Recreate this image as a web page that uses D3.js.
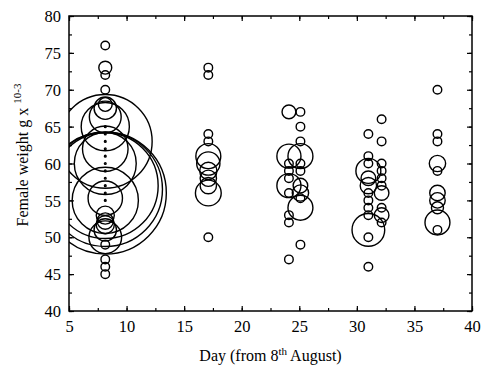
<!DOCTYPE html>
<html>
<head>
<meta charset="utf-8">
<script src="https://cdn.jsdelivr.net/npm/d3@7"></script>
<style>
  body { margin: 0; background: #fff; }
</style>
</head>
<body>
<div id="chart"></div>
<script>
// sampling days (columns)
const days = [8.15, 17.1, 24.1, 25.1, 31, 32.15, 37];

// female weight (g x 10^-3) for every circle in each column
const weights = [
  [76, 73, 72, 70, 68, 67.5, 66.3, 65, 63, 62, 60, 57, 56.5, 56, 55.3, 55, 53, 52.2, 51.7, 51, 50, 49, 47, 46, 45,
   65, 64, 63, 62, 61, 60, 59, 58, 57, 56, 55],
  [73, 72, 64, 63, 61, 60, 59, 58, 57, 56, 50],
  [67, 61, 60, 59, 58, 57, 56, 53, 52, 47],
  [67, 65, 63, 61, 60, 59, 57, 56, 55.3, 54, 49],
  [64, 61, 60, 59, 58, 57, 56, 55, 54, 53, 51, 50, 46],
  [66, 63, 60, 59, 58, 57, 56, 54, 53, 52],
  [70, 64, 63, 60, 59, 56, 55, 54, 52, 51]
];

// relative circle size for each of those points
const sizes = [
  [1, 1.5, 1, 1, 1.6, 2.6, 3.7, 5.6, 10.9, 5.3, 7.2, 12.3, 13.3, 14.2, 4, 7.7, 2.1, 1.9, 2.1, 2.6, 3.8, 1, 1, 1, 1,
   0.2, 0.2, 0.2, 0.2, 0.2, 0.2, 0.2, 0.2, 0.2, 0.2, 0.2],
  [1, 1, 1, 1, 2.9, 2.7, 2.0, 1.9, 1.9, 3.0, 1],
  [1.6, 2.8, 1, 1, 1, 2.8, 1, 1, 1, 1],
  [1, 1, 1, 2.9, 1, 1, 1.7, 1.9, 1, 2.9, 1],
  [1, 1, 1, 2.9, 1.7, 1.9, 1, 1, 1, 1, 3.8, 1, 1],
  [1, 1, 1, 1, 1, 1, 1.7, 1, 1.7, 1],
  [1, 1, 1, 1.9, 1, 1.8, 1.8, 1.4, 2.9, 1]
];

const xTicks = [5, 10, 15, 20, 25, 30, 35, 40];
const yTicks = [40, 45, 50, 55, 60, 65, 70, 75, 80];

const points = [];
days.forEach((d, i) => {
  weights[i].forEach((w, j) => points.push({ day: d, weight: w, size: sizes[i][j] }));
});

const serif = '"Liberation Serif", "DejaVu Serif", serif';
const W = 482, H = 376;
const margin = { top: 16, right: 10, bottom: 65, left: 69 };
const width = W - margin.left - margin.right;
const height = H - margin.top - margin.bottom;

const x = d3.scaleLinear().domain([5, 40]).range([0, width]);
const y = d3.scaleLinear().domain([40, 80]).range([height, 0]);
const r = d3.scaleLinear().domain([0, 1]).range([0, 4.3]);

const svg = d3.select('#chart')
  .append('svg')
  .attr('width', W)
  .attr('height', H);

const g = svg.append('g')
  .attr('transform', `translate(${margin.left},${margin.top})`);

g.append('clipPath')
  .attr('id', 'plot-clip')
  .append('rect')
  .attr('width', width)
  .attr('height', height);

// minor ticks every 2.5, major every 5, all pointing inward
const minorX = d3.range(5, 40.1, 2.5);
const minorY = d3.range(40, 80.1, 2.5);

const styleAxis = (sel) => {
  sel.attr('font-family', serif).attr('font-size', 16.5);
  sel.select('.domain').remove();
  sel.selectAll('line').attr('stroke', '#000').attr('stroke-width', 1.2);
  sel.selectAll('text')
    .attr('fill', '#000')
    .style('font-family', serif)
    .style('font-size', '16.5px');
};

g.append('g').attr('transform', `translate(0,${height})`)
  .call(d3.axisBottom(x).tickValues(minorX).tickSize(-3).tickFormat(''))
  .call(styleAxis);
g.append('g')
  .call(d3.axisTop(x).tickValues(minorX).tickSize(-3).tickFormat(''))
  .call(styleAxis);
g.append('g')
  .call(d3.axisLeft(y).tickValues(minorY).tickSize(-3).tickFormat(''))
  .call(styleAxis);
g.append('g').attr('transform', `translate(${width},0)`)
  .call(d3.axisRight(y).tickValues(minorY).tickSize(-3).tickFormat(''))
  .call(styleAxis);

g.append('g').attr('transform', `translate(0,${height})`)
  .call(d3.axisBottom(x).tickValues(xTicks).tickSizeInner(-5).tickSizeOuter(0).tickPadding(9))
  .call(styleAxis);

g.append('g')
  .call(d3.axisLeft(y).tickValues(yTicks).tickSizeInner(-5).tickSizeOuter(0).tickPadding(8))
  .call(styleAxis)
  .selectAll('text').attr('dy', '0.34em');

g.append('g')
  .call(d3.axisTop(x).tickValues(xTicks).tickSize(-5).tickFormat(''))
  .call(styleAxis);
g.append('g').attr('transform', `translate(${width},0)`)
  .call(d3.axisRight(y).tickValues(yTicks).tickSize(-5).tickFormat(''))
  .call(styleAxis);

// frame
g.append('rect')
  .attr('width', width)
  .attr('height', height)
  .attr('fill', 'none')
  .attr('stroke', '#000')
  .attr('stroke-width', 1.5);

// circles
g.append('g')
  .attr('clip-path', 'url(#plot-clip)')
  .selectAll('circle')
  .data(points)
  .enter()
  .append('circle')
  .attr('cx', (d) => x(d.day))
  .attr('cy', (d) => y(d.weight))
  .attr('r', (d) => r(d.size))
  .attr('fill', 'none')
  .attr('stroke', '#000')
  .attr('stroke-width', 1.4);

// axis titles
const xt = svg.append('text')
  .attr('x', margin.left + width / 2)
  .attr('y', 361)
  .attr('text-anchor', 'middle')
  .style('font-family', serif)
  .style('font-size', '16px');
xt.append('tspan').text('Day (from 8');
xt.append('tspan').attr('dy', -6).style('font-size', '11px').text('th');
xt.append('tspan').attr('dy', 6).text(' August)');

const yt = svg.append('text')
  .attr('transform', 'translate(28,155) rotate(-90)')
  .attr('text-anchor', 'middle')
  .style('font-family', serif)
  .style('font-size', '16px');
yt.append('tspan').text('Female weight g x ');
yt.append('tspan').attr('dy', -7).style('font-size', '11px').text('10-3');
</script>
</body>
</html>
